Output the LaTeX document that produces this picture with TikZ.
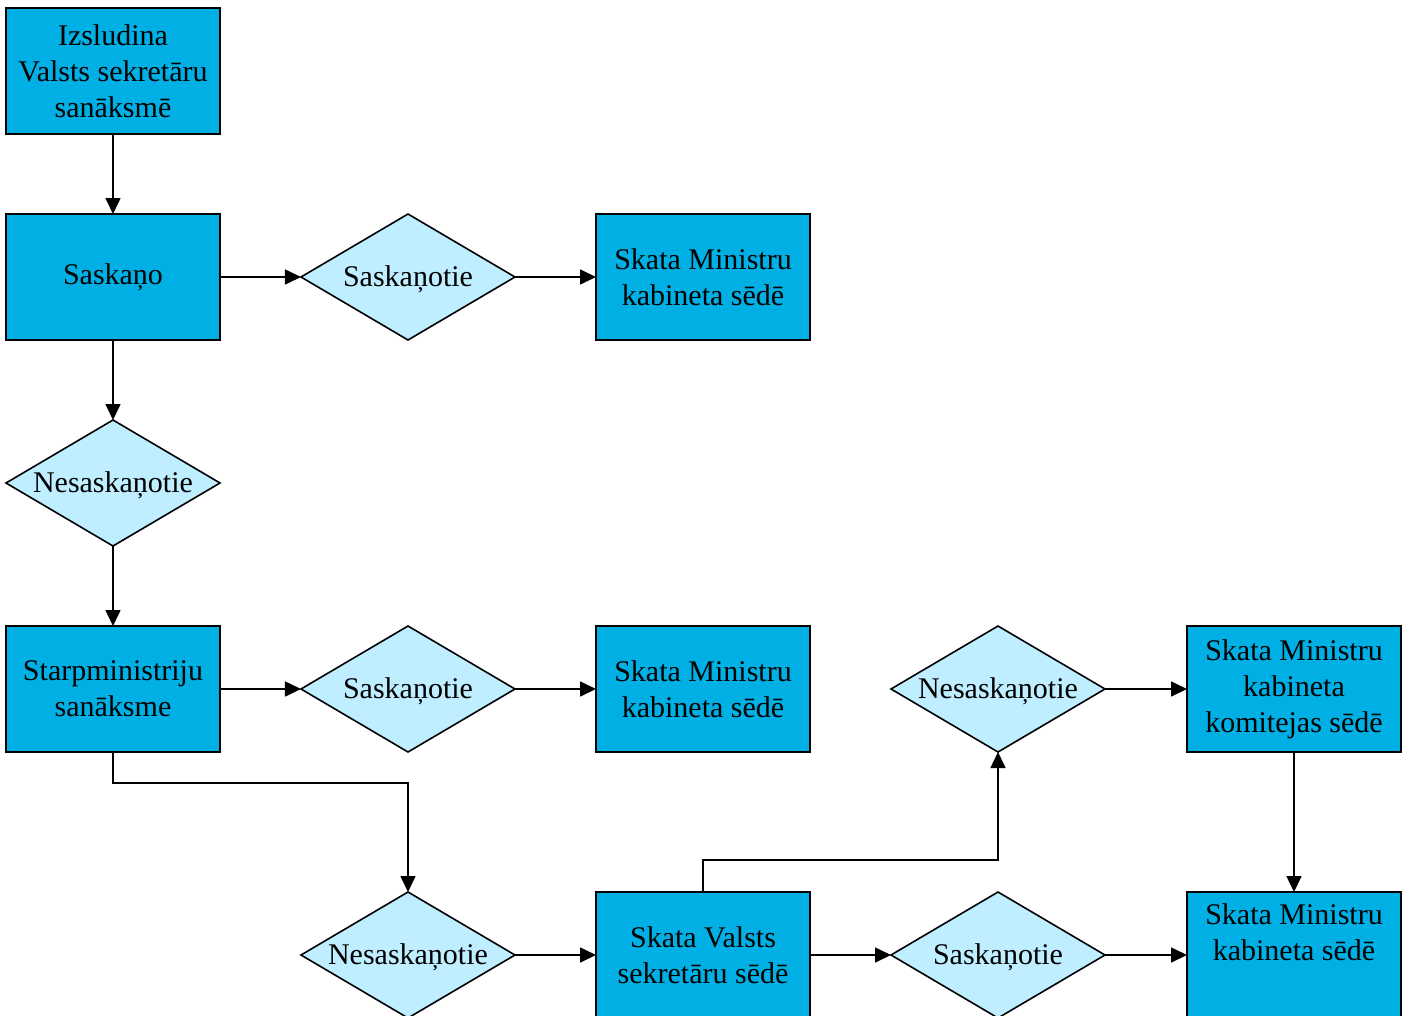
\documentclass[tikz,border=0pt]{standalone}
\usepackage{fontspec}
\setmainfont{Liberation Serif}
\usepackage{xcolor}
\usetikzlibrary{shapes,arrows.meta,positioning,calc}
\definecolor{boxblue}{RGB}{0,176,228}
\definecolor{diamondblue}{RGB}{190,238,255}

\begin{document}
\begin{tikzpicture}[x=1pt, y=-1pt,
    every node/.style={font=\fontsize{30}{36}\selectfont, align=center, outer sep=0pt},
    stepbox/.style={draw, line width=1.6pt, fill=boxblue, rectangle, minimum width=214pt, minimum height=126pt, inner sep=0pt},
    choice/.style={draw, line width=1.6pt, fill=diamondblue, diamond, aspect=1.7, minimum width=214pt, minimum height=126pt, inner sep=0pt, text height=20pt, text depth=2pt},
    flow/.style={line width=1.6pt, -{Triangle[length=16pt, width=15pt]}}]
    \useasboundingbox (0,0) rectangle (1406,1015);
    % Boxes
    \node[stepbox] (izsludina) at (113,71) {Izsludina\\Valsts sekretāru\\sanāksmē};
    \node[stepbox] (saskano) at (113,277) {Saskaņo};
    \node[stepbox] (mk1) at (703,277) {Skata Ministru\\kabineta sēdē};
    \node[stepbox] (starp) at (113,689) {Starpministriju\\sanāksme};
    \node[stepbox] (mk2) at (703,689) {Skata Ministru\\kabineta sēdē};
    \node[stepbox] (komiteja) at (1294,689) {Skata Ministru\\kabineta\\komitejas sēdē};
    \node[stepbox] (vss) at (703,955) {Skata Valsts\\sekretāru sēdē};
    \node[stepbox] (mk3) at (1294,955) {Skata Ministru\\kabineta sēdē\\\strut};
    % Decisions
    \node[choice] (sask1) at (408,277) {Saskaņotie};
    \node[choice] (nesask1) at (113,483) {Nesaskaņotie};
    \node[choice] (sask2) at (408,689) {Saskaņotie};
    \node[choice] (nesask2) at (408,955) {Nesaskaņotie};
    \node[choice] (nesask3) at (998,689) {Nesaskaņotie};
    \node[choice] (sask3) at (998,955) {Saskaņotie};
    % Connectors
    \draw[flow] (izsludina) -- (saskano);
    \draw[flow] (saskano) -- (sask1);
    \draw[flow] (sask1) -- (mk1);
    \draw[flow] (saskano) -- (nesask1);
    \draw[flow] (nesask1) -- (starp);
    \draw[flow] (starp) -- (sask2);
    \draw[flow] (sask2) -- (mk2);
    \draw[flow] (starp.south) |- (408,783) -- (nesask2.north);
    \draw[flow] (nesask2) -- (vss);
    \draw[flow] (vss.north) |- (998,860) -- (nesask3.south);
    \draw[flow] (nesask3) -- (komiteja);
    \draw[flow] (komiteja) -- (mk3);
    \draw[flow] (vss) -- (sask3);
    \draw[flow] (sask3) -- (mk3);
\end{tikzpicture}
\end{document}
